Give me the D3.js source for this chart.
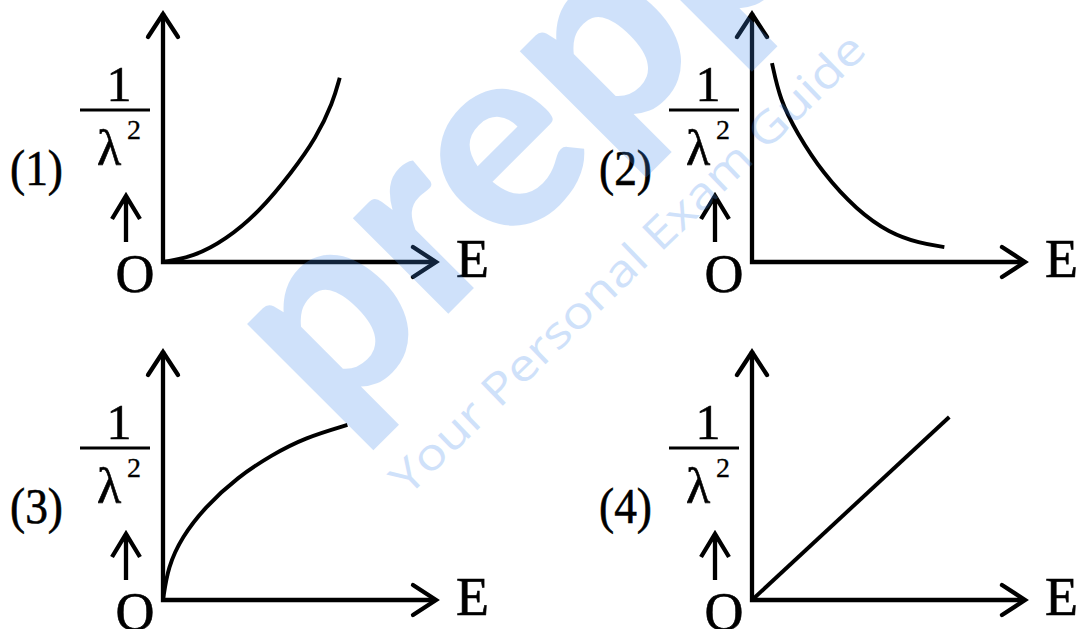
<!DOCTYPE html>
<html><head><meta charset="utf-8">
<script src="https://cdn.jsdelivr.net/npm/d3@7"></script>
<style>html,body{margin:0;padding:0;background:#fff;overflow:hidden}</style>
</head><body>
<svg id="c" width="1078" height="629"></svg>
<script>
// ---- data ----
const panelLabels = ["(1)", "(2)", "(3)", "(4)"];
const yLabelNum = "1";
const yLabelDen = "λ";
const yLabelExp = "2";
const xLabel = "E";
const originLabel = "O";
const axisDomain = [0, 10];
// curve points (E, 1/λ²)
const curve1E = [0, 1.1, 2.3, 3.5, 4.7, 5.6, 6.2, 6.45];
const curve1Y = [0, 0.2, 0.9, 2.0, 3.6, 5.0, 6.4, 7.4];
const curve2E = [0.73, 1.02, 1.64, 2.58, 3.82, 5.02, 6.11, 7.02];
const curve2Y = [7.99, 6.51, 5.18, 3.57, 2.09, 1.16, 0.76, 0.60];
const curve3E = [0, 0.18, 0.69, 1.53, 2.73, 3.96, 5.16, 6.73];
const curve3Y = [0, 1.33, 2.53, 3.73, 4.94, 5.82, 6.51, 7.03];
const curve4E = [0, 7.2];
const curve4Y = [0, 7.35];
const watermarkBrand = "prepp";
const watermarkTag = "Your Personal Exam Guide";

const curvesE = [curve1E, curve2E, curve3E, curve4E];
const curvesY = [curve1Y, curve2Y, curve3Y, curve4Y];

// ---- drawing ----
const svg = d3.select("#c");
const serif = "'Liberation Serif','DejaVu Serif',serif";
const ink = "#000";

function label(g, txt, x, y, size, anchor) {
  return g.append("text").attr("x", x).attr("y", y)
    .attr("text-anchor", anchor || "start")
    .attr("font-family", serif).attr("font-size", size)
    .attr("fill", ink).attr("stroke", ink).attr("stroke-width", 0.6)
    .text(txt);
}

panelLabels.forEach((lab, i) => {
  const col = i % 2, row = Math.floor(i / 2);
  const ox = 163 + col * 589, oy = 262 + row * 338;
  const x = d3.scaleLinear().domain(axisDomain).range([ox, ox + 274]);
  const y = d3.scaleLinear().domain(axisDomain).range([oy, oy - 249]);
  const g = svg.append("g");

  // axes
  g.append("path")
    .attr("d", `M${x(0)},${y(10)}L${x(0)},${y(0)}L${x(10) - 2},${y(0)}`)
    .attr("fill", "none").attr("stroke", ink).attr("stroke-width", 4.3)
    .attr("stroke-linejoin", "miter");
  // arrowheads
  g.append("path")
    .attr("d", `M${x(0) - 15},${y(10) + 24}L${x(0)},${y(10) + 1}L${x(0) + 15},${y(10) + 24}`)
    .attr("fill", "none").attr("stroke", ink).attr("stroke-width", 4.3)
    .attr("stroke-linecap", "round").attr("stroke-linejoin", "miter");
  g.append("path")
    .attr("d", `M${x(10) - 24},${y(0) - 15}L${x(10) - 1},${y(0)}L${x(10) - 24},${y(0) + 15}`)
    .attr("fill", "none").attr("stroke", ink).attr("stroke-width", 4.3)
    .attr("stroke-linecap", "round").attr("stroke-linejoin", "miter");

  // curve
  const pts = curvesE[i].map((e, k) => [e, curvesY[i][k]]);
  const line = d3.line().x(d => x(d[0])).y(d => y(d[1]))
    .curve(d3.curveBasis);
  g.append("path").attr("d", line(pts))
    .attr("fill", "none").attr("stroke", ink).attr("stroke-width", 3.9)
    .attr("stroke-linecap", "butt");

  // panel number
  label(g, lab, ox - 153, oy - 77, 50)
    .attr("textLength", 53).attr("lengthAdjust", "spacingAndGlyphs");
  // y label fraction
  label(g, yLabelNum, ox - 44, oy - 161, 50, "middle");
  g.append("line").attr("x1", ox - 83).attr("x2", ox - 13)
    .attr("y1", oy - 152).attr("y2", oy - 152)
    .attr("stroke", ink).attr("stroke-width", 2.8);
  label(g, yLabelDen, ox - 66, oy - 97, 50);
  label(g, yLabelExp, ox - 36, oy - 123, 28).attr("stroke-width", 0.3);
  // small up arrow
  g.append("path")
    .attr("d", `M${ox - 37},${oy - 20}L${ox - 37},${oy - 66}M${ox - 51},${oy - 43}L${ox - 37},${oy - 66}L${ox - 23},${oy - 43}`)
    .attr("fill", "none").attr("stroke", ink).attr("stroke-width", 4.3)
    .attr("stroke-linecap", "butt").attr("stroke-linejoin", "miter");
  // O and E
  label(g, originLabel, ox - 28, oy + 30, 54, "middle");
  label(g, xLabel, ox + 293, oy + 15, 54);
});

// watermark (semi-transparent, on top)
const wm = svg.append("g").attr("opacity", 0.25);
wm.append("text")
  .attr("transform", "translate(332,430) rotate(-45)")
  .attr("font-family", "Lato,'Noto Sans',sans-serif").attr("font-weight", 900)
  .attr("font-size", 262).attr("fill", "rgb(68,140,236)")
  .text(watermarkBrand);
wm.append("text")
  .attr("transform", "translate(408,497) rotate(-44)")
  .attr("font-family", "'Open Sans','Noto Sans',sans-serif")
  .attr("font-size", 44).attr("fill", "rgb(68,140,236)")
  .attr("textLength", 640).attr("lengthAdjust", "spacingAndGlyphs")
  .text(watermarkTag);
</script>
</body></html>
